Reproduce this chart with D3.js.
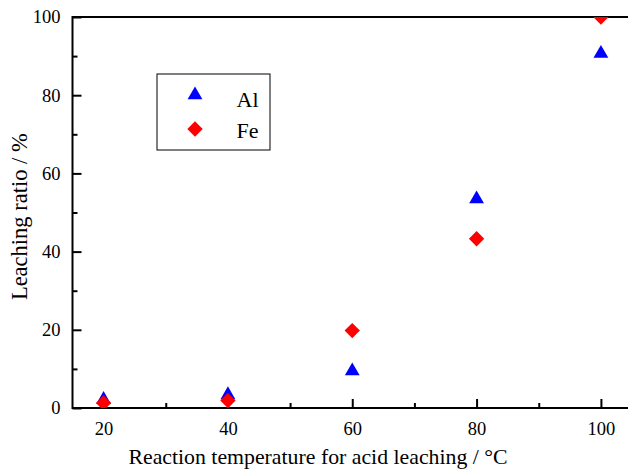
<!DOCTYPE html>
<html>
<head>
<meta charset="utf-8">
<script src="https://cdn.jsdelivr.net/npm/d3@7"></script>
<style>
  body { margin: 0; background: #fff; }
</style>
</head>
<body>
<div id="vis-container"></div>
<script>
// data
let temps = [20, 40, 60, 80, 100];
let alRatio = [2.4, 3.6, 9.7, 53.7, 90.9];
let feRatio = [1.3, 1.9, 19.8, 43.3, 100];
let xTicks = [20, 40, 60, 80, 100];
let yTicks = [0, 20, 40, 60, 80, 100];

let FONT = "'Liberation Serif'";

let W = 628, H = 476;
let margin = {top: 17, right: -4, bottom: 68, left: 72.5};
let width = W - margin.left - margin.right;
let height = H - margin.top - margin.bottom;

let svg = d3.select("#vis-container")
  .append("svg")
  .attr("width", W)
  .attr("height", H)
  .style("font-family", FONT);

let g = svg.append("g")
  .attr("transform", `translate(${margin.left}, ${margin.top})`);

// scales
let x = d3.scaleLinear().domain([15, 105]).range([0, width]);
let y = d3.scaleLinear().domain([0, 100]).range([height, 0]);

// axes, ticks pointing inward
let xAxis = d3.axisBottom(x).tickValues(xTicks).tickSize(-9).tickPadding(14).tickFormat(d3.format("d"));
let xMinor = d3.axisBottom(x).tickValues([30, 50, 70, 90]).tickSize(-5).tickFormat("");
let yAxis = d3.axisLeft(y).tickValues(yTicks).tickSize(-9).tickPadding(12).tickFormat(d3.format("d"));
let yMinor = d3.axisLeft(y).tickValues([10, 30, 50, 70, 90]).tickSize(-5).tickFormat("");

function styleAxis(sel){
  sel.attr("font-family", null);
  sel.select(".domain").remove();
  sel.selectAll("line").attr("stroke", "#000").attr("stroke-width", 2);
  sel.selectAll("text").attr("font-size", "18.5px").style("font-family", FONT);
}

g.append("g").attr("transform", `translate(0,${height})`).call(xAxis).call(styleAxis);
g.append("g").attr("transform", `translate(0,${height})`).call(xMinor).call(styleAxis);
g.append("g").call(yAxis).call(styleAxis);
g.append("g").call(yMinor).call(styleAxis);

// frame lines (left, bottom, top)
g.append("path")
  .attr("d", `M${width},0H0V${height}H${width}`)
  .attr("fill", "none")
  .attr("stroke", "#000")
  .attr("stroke-width", 2);

// axis labels
svg.append("text")
  .attr("x", 318)
  .attr("y", 464)
  .attr("font-size", "21.8px")
  .attr("text-anchor", "middle")
  .style("font-family", FONT)
  .text("Reaction temperature for acid leaching / °C");

svg.append("text")
  .attr("transform", `translate(27, 216.7) rotate(-90)`)
  .attr("font-size", "22.5px")
  .attr("text-anchor", "middle")
  .style("font-family", FONT)
  .text("Leaching ratio / %");

// markers
let tri = d3.symbol().type(d3.symbolTriangle).size(95);
let dia = d3.symbol().type(d3.symbolSquare).size(118);

svg.append("clipPath").attr("id", "plotclip")
  .append("rect").attr("x", 0).attr("y", 0).attr("width", width).attr("height", height);

let marks = g.append("g").attr("clip-path", "url(#plotclip)");

marks.selectAll(".al")
  .data(temps)
  .enter()
  .append("path")
  .attr("class", "al")
  .attr("d", tri)
  .attr("fill", "#0000ff")
  .attr("transform", (d, i) => `translate(${x(d)},${y(alRatio[i]) + 1})`);

marks.selectAll(".fe")
  .data(temps)
  .enter()
  .append("path")
  .attr("class", "fe")
  .attr("d", dia)
  .attr("fill", "#ff0000")
  .attr("transform", (d, i) => `translate(${x(d)},${y(feRatio[i])}) rotate(45)`);

// legend
let legend = svg.append("g").attr("transform", "translate(157, 74)");
legend.append("rect")
  .attr("width", 113).attr("height", 76)
  .attr("fill", "#fff").attr("stroke", "#000").attr("stroke-width", 1);
legend.append("path").attr("d", tri).attr("fill", "#0000ff")
  .attr("transform", "translate(38,21)");
legend.append("path").attr("d", dia).attr("fill", "#ff0000")
  .attr("transform", "translate(38,55) rotate(45)");
legend.append("text").attr("x", 79.5).attr("y", 32.5).attr("font-size", "22px").style("font-family", FONT).text("Al");
legend.append("text").attr("x", 79.5).attr("y", 63.5).attr("font-size", "22px").style("font-family", FONT).text("Fe");
</script>
</body>
</html>
